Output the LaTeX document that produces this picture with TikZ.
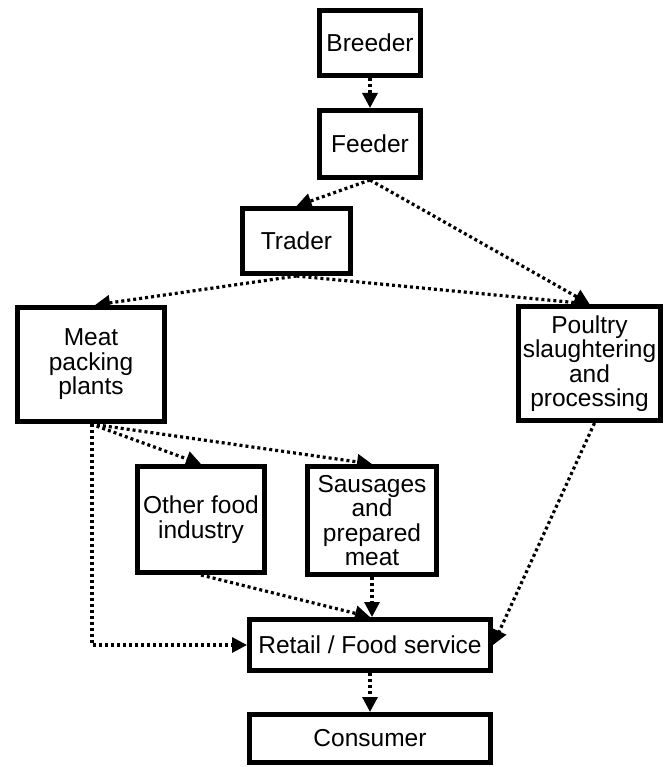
\documentclass[tikz,border=0pt]{standalone}
\usepackage{fontspec}
\setmainfont{Liberation Sans}
\usetikzlibrary{arrows.meta,calc}
\pgfdeclarelayer{background}
\pgfsetlayers{background,main}
\tikzset{
  box/.style={draw=black, line width=5pt, fill=white, inner sep=0pt, align=center,
    font=\fontsize{24.5pt}{24.5pt}\selectfont},
  flow/.style={line width=3.2pt, dash pattern=on 3pt off 3pt,
    -{Triangle[length=15pt,width=15pt]}}
}
\begin{document}
\begin{tikzpicture}[x=1pt,y=-1pt]
\useasboundingbox (0,0) rectangle (664,767);
\node[box, minimum width=101pt, minimum height=65pt] (breeder) at (370,43) {Breeder};
\node[box, minimum width=101pt, minimum height=67pt] (feeder) at (370,144) {Feeder};
\node[box, minimum width=108pt, minimum height=65pt] (trader) at (296.5,241) {Trader};
\node[box, minimum width=147pt, minimum height=114pt] (meat) at (91,364.5) {Meat\\packing\\plants};
\node[box, minimum width=142pt, minimum height=114pt] (poultry) at (589.5,363.5) {Poultry\\slaughtering\\and\\processing};
\node[box, minimum width=127pt, minimum height=106pt] (other) at (201,519.5) {Other food\\industry};
\node[box, minimum width=129pt, minimum height=108pt] (sausages) at (372,520.5) {Sausages\\and\\prepared\\meat};
\node[box, minimum width=241pt, minimum height=51pt] (retail) at (370,645) {Retail / Food service};
\node[box, minimum width=241pt, minimum height=48pt] (consumer) at (370,738.5) {Consumer};
\begin{pgfonlayer}{background}
\draw[flow] (breeder.south) -- (feeder.north);
\draw[flow] (feeder.south) -- (trader.north);
\draw[flow] (feeder.south) -- (poultry.north);
\draw[flow] (trader.south) -- ([xshift=4pt]meat.north);
\draw[flow] (trader.south) -- (poultry.north);
\draw[flow] (meat.south) -- (other.north);
\draw[flow] (meat.south) -- (sausages.north);
\draw[flow] ([xshift=1pt]meat.south) |- (retail.west);
\draw[flow] (other.south) -- (retail.north);
\draw[flow] (sausages.south) -- ([xshift=2pt]retail.north);
\draw[flow] ([xshift=5pt]poultry.south) -- (retail.east);
\draw[flow] (retail.south) -- (consumer.north);
\end{pgfonlayer}
\end{tikzpicture}
\end{document}
